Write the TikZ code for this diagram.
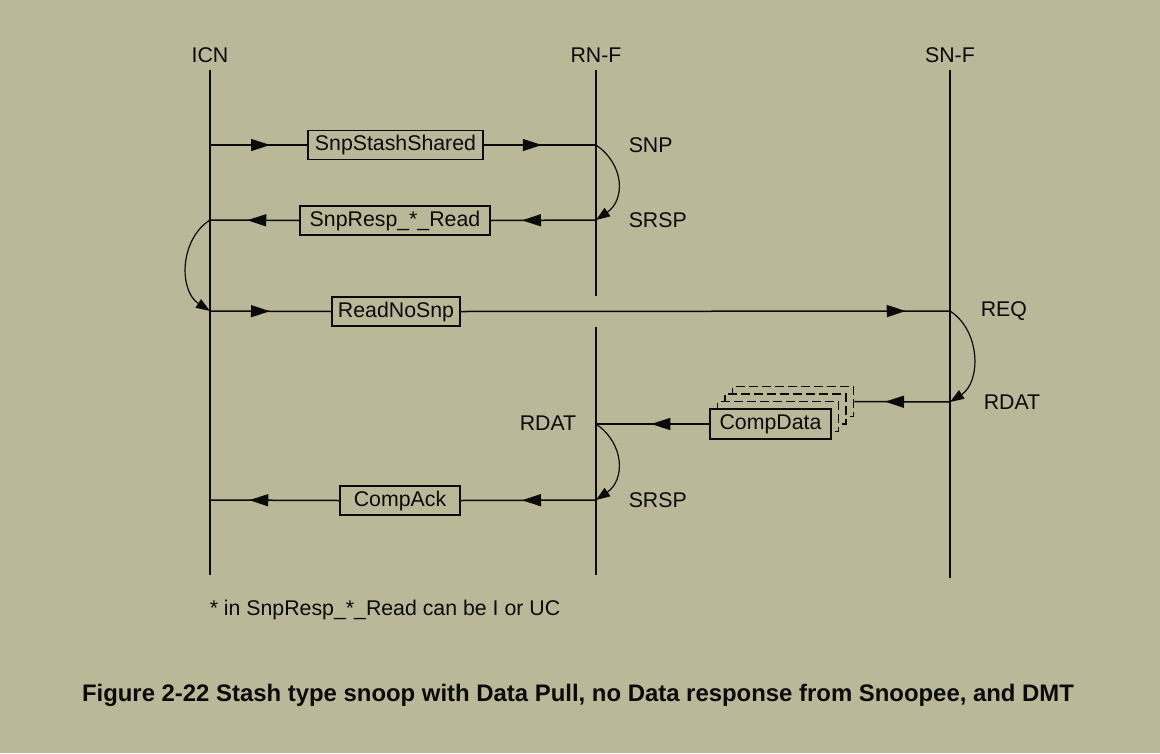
\documentclass[tikz,border=0pt]{standalone}
\usepackage{fontspec}
\setmainfont{Liberation Sans}
\usetikzlibrary{arrows.meta,decorations.markings}
\definecolor{bg}{RGB}{186,184,152}
\definecolor{ink}{RGB}{10,10,10}
\begin{document}
\begin{tikzpicture}[x=1pt,y=-1pt,
  line width=1.5pt, draw=ink,
  lbl/.style={font=\fontsize{21.3}{25}\selectfont, inner sep=0pt, text=ink},
  msgbox/.style={draw=ink, fill=bg, font=\fontsize{21.3}{25}\selectfont, inner sep=0pt, minimum height=29pt, text=ink},
  ctip/.style={-{Triangle[length=14pt,width=10pt]}},
  midarrow/.style={postaction={decorate}, decoration={markings, mark=at position #1 with {\arrow{Triangle[length=19pt,width=12pt]}}}},
  stackbox/.style={draw=ink, fill=bg, dash pattern=on 9pt off 4pt, minimum width=121pt, minimum height=30pt, inner sep=0pt}
]
\fill[bg] (0,0) rectangle (1160,753);
\useasboundingbox (0,0) rectangle (1160,753);

% lifeline heads
\node[lbl] (icn) at (210,55) {ICN};
\node[lbl] (rnf) at (596,55) {RN-F};
\node[lbl] (snf) at (950,55) {SN-F};

% lifelines
\coordinate (icnT) at (210,70);  \coordinate (icnB) at (210,575);
\coordinate (rnT) at (596,70);   \coordinate (rnM1) at (596,296);
\coordinate (rnM2) at (596,327); \coordinate (rnB) at (596,575);
\coordinate (snT) at (950,70);   \coordinate (snB) at (950,578);
\draw (icnT) -- (icnB);
\draw (rnT) -- (rnM1);
\draw (rnM2) -- (rnB);
\draw (snT) -- (snB);

% event points
\coordinate (i1) at (210,145); \coordinate (r1) at (596,145);
\coordinate (r2) at (596,220); \coordinate (i2) at (210,220);
\coordinate (i3) at (210,311); \coordinate (s3) at (950,311);
\coordinate (s4) at (950,402);
\coordinate (r5) at (596,424);
\coordinate (r6) at (596,500); \coordinate (i6) at (210,500);

% message boxes
\node[msgbox, minimum width=175pt] (b1) at (395.5,145) {SnpStashShared};
\node[msgbox, minimum width=190pt] (b2) at (395,220.5) {SnpResp\_*\_Read};
\node[msgbox, minimum width=128pt] (b3) at (396,311.5) {ReadNoSnp};
\node[msgbox, minimum width=120pt] (b6) at (400,500.5) {CompAck};

% CompData stack
\node[stackbox] (cd3) at (793,401.5) {};
\node[stackbox] (cd2) at (785.5,409) {};
\node[stackbox] (cd1) at (778,416.5) {};
\node[msgbox, minimum width=121pt, minimum height=30pt] (cd) at (770.5,424) {CompData};

% messages
\draw[midarrow=60pt] (i1) -- (b1.west);
\draw[midarrow=58pt] (b1.east) -- (r1);
\draw[midarrow=74pt] (r2) -- (b2.east);
\draw[midarrow=52pt] (b2.west) -- (i2);
\draw[midarrow=60pt] (i3) -- (b3.west);
\draw[midarrow=445pt] (b3.east) -- (s3);
\draw[midarrow=65pt] (s4) -- (cd3.east);
\draw[midarrow=58pt] (cd.west) -- (r5);
\draw[midarrow=74pt] (r6) -- (b6.east);
\draw[midarrow=90pt] (b6.west) -- (i6);

% local turnarounds
\draw[ctip, line width=1.2pt] (r1) .. controls (625,165) and (625,200) .. (r2);
\draw[ctip, line width=1.2pt] (i2) .. controls (179,240) and (179,291) .. (i3);
\draw[ctip, line width=1.2pt] (s3) .. controls (981,331) and (981,382) .. (s4);
\draw[ctip, line width=1.2pt] (r5) .. controls (625,444) and (625,480) .. (r6);

% channel labels
\node[lbl, anchor=west] (lsnp) at (628,145) {SNP};
\node[lbl, anchor=west] (lsrsp1) at (628,220) {SRSP};
\node[lbl, anchor=west] (lreq) at (980,311) {REQ};
\node[lbl, anchor=west] (lrdat1) at (983,402) {RDAT};
\node[lbl, anchor=east] (lrdat2) at (577,423) {RDAT};
\node[lbl, anchor=west] (lsrsp2) at (628,500) {SRSP};

% footnote and caption
\node[lbl, anchor=west] (note) at (209,610) {* in SnpResp\_*\_Read can be I or UC};
\node[inner sep=0pt, text=ink, font=\bfseries\fontsize{23.9}{28}\selectfont] (cap) at (578,695) {Figure 2-22 Stash type snoop with Data Pull, no Data response from Snoopee, and DMT};
\end{tikzpicture}
\end{document}
